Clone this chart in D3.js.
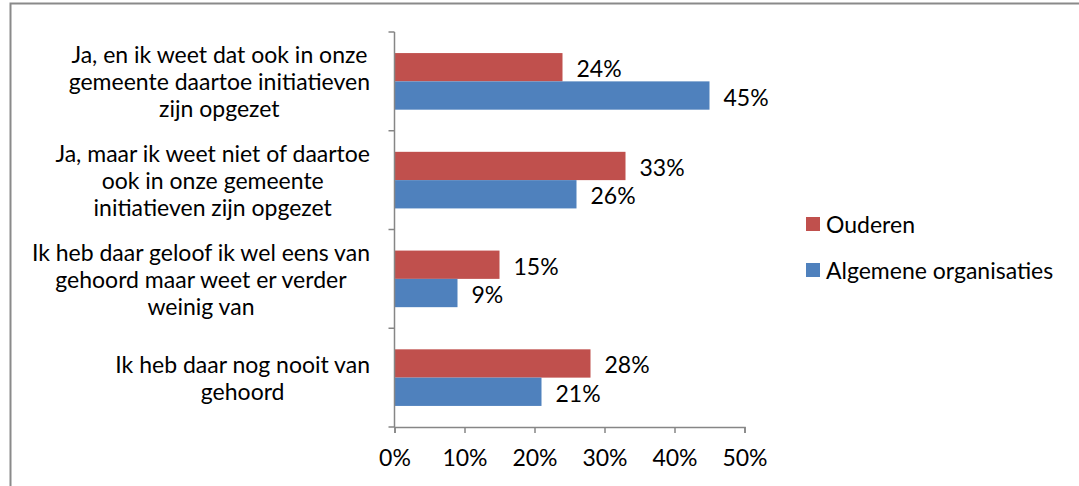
<!DOCTYPE html>
<html>
<head>
<meta charset="utf-8">
<script src="https://cdn.jsdelivr.net/npm/d3@7"></script>
<style>
  body { margin: 0; background: #fff; }
  svg { display: block; font-family: Lato, "Open Sans", sans-serif; }
</style>
</head>
<body>
<div id="chart"></div>
<script>
// data
var categories = [
    ["Ja, en ik weet dat ook in onze", "gemeente daartoe initiatieven", "zijn opgezet"],
    ["Ja, maar ik weet niet of daartoe", "ook in onze gemeente", "initiatieven zijn opgezet"],
    ["Ik heb daar geloof ik wel eens van", "gehoord maar weet er verder", "weinig van"],
    ["Ik heb daar nog nooit van", "gehoord"]
];
var seriesNames = ["Ouderen", "Algemene organisaties"];
var ouderen = [24, 33, 15, 28];
var algemene = [45, 26, 9, 21];
var xTicks = [0, 10, 20, 30, 40, 50];
var colors = ["#C0504D", "#4F81BD"];

var W = 1079, H = 486;
var fs = 23;
var svg = d3.select("#chart").append("svg")
    .attr("width", W)
    .attr("height", H);

// outer frame (only top and left edges visible)
svg.append("rect")
    .attr("x", 10.5).attr("y", 3.5)
    .attr("width", W + 20).attr("height", H + 20)
    .attr("fill", "none")
    .attr("stroke", "#8a8a8a")
    .attr("stroke-width", 2);

var plotLeft = 394.5, plotTop = 32, plotBottom = 427;
var x = d3.scaleLinear().domain([0, 50]).range([plotLeft, plotLeft + 350]);
var y = d3.scaleBand().domain(d3.range(categories.length)).range([plotTop, plotBottom]);
var barH = 28.3;

var rows = categories.map(function(c, i) {
    return { i: i, vals: [ouderen[i], algemene[i]] };
});

// bars
rows.forEach(function(r) {
    var mid = y(r.i) + y.bandwidth() / 2;
    r.vals.forEach(function(v, s) {
        var y0 = mid - barH + s * barH;
        svg.append("rect")
            .attr("x", x(0))
            .attr("y", y0)
            .attr("width", x(v) - x(0))
            .attr("height", barH)
            .attr("fill", colors[s]);
        svg.append("text")
            .attr("x", x(v) + 14)
            .attr("y", y0 + barH / 2 + 1)
            .attr("dominant-baseline", "central")
            .attr("font-size", fs)
            .attr("fill", "#000")
            .text(v + "%");
    });
});

// y axis line and ticks (at band boundaries)
var axisColor = "#868686";
svg.append("line")
    .attr("x1", plotLeft).attr("x2", plotLeft)
    .attr("y1", plotTop).attr("y2", plotBottom)
    .attr("stroke", axisColor).attr("stroke-width", 1.5);
d3.range(categories.length + 1).forEach(function(k) {
    var yy = plotTop + k * y.step();
    svg.append("line")
        .attr("x1", plotLeft - 6).attr("x2", plotLeft)
        .attr("y1", yy).attr("y2", yy)
        .attr("stroke", axisColor).attr("stroke-width", 1.5);
});

// x axis
var xAxis = d3.axisBottom(x)
    .tickValues(xTicks)
    .tickSize(6)
    .tickPadding(17)
    .tickFormat(function(d) { return d + "%"; });
var gx = svg.append("g")
    .attr("transform", "translate(0," + plotBottom + ")")
    .call(xAxis);
gx.select(".domain").attr("stroke", axisColor).attr("stroke-width", 1.5);
gx.selectAll(".tick line").attr("stroke", axisColor).attr("stroke-width", 1.5);
gx.selectAll(".tick text")
    .attr("font-family", "Lato, sans-serif")
    .attr("font-size", fs)
    .attr("fill", "#000");

// category labels: block right aligned, lines centred inside block
var lineH = 27;
categories.forEach(function(lines, i) {
    var mid = y(i) + y.bandwidth() / 2;
    var g = svg.append("g");
    var texts = lines.map(function(t, j) {
        return g.append("text")
            .attr("y", mid + (j - (lines.length - 1) / 2) * lineH)
            .attr("dominant-baseline", "central")
            .attr("text-anchor", "middle")
            .attr("font-size", fs)
            .attr("fill", "#000")
            .text(t);
    });
    var maxW = d3.max(texts, function(t) { return t.node().getComputedTextLength(); });
    var cx = 370 - maxW / 2;
    texts.forEach(function(t) { t.attr("x", cx); });
});

// legend
var legend = svg.append("g");
seriesNames.forEach(function(name, s) {
    var ly = 224 + s * 46;
    legend.append("rect")
        .attr("x", 806).attr("y", ly - 7)
        .attr("width", 14).attr("height", 14)
        .attr("fill", colors[s]);
    legend.append("text")
        .attr("x", 826).attr("y", ly)
        .attr("dominant-baseline", "central")
        .attr("font-size", fs)
        .attr("fill", "#000")
        .text(name);
});
</script>
</body>
</html>
